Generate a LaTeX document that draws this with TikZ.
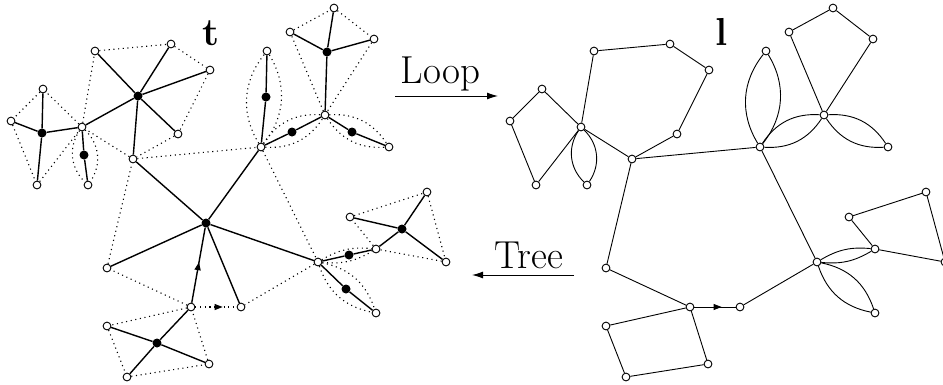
\documentclass[tikz,border=0pt]{standalone}
\usetikzlibrary{arrows.meta,decorations.markings}
\pgfdeclarelayer{bg}
\pgfsetlayers{bg,main}
\tikzset{
 wn/.style={circle,draw,fill=white,inner sep=0pt,minimum size=7.8pt,line width=0.9pt},
 bn/.style={circle,fill=black,inner sep=0pt,minimum size=9pt},
 tedge/.style={line width=1.4pt},
 dotedge/.style={line width=1.1pt,dash pattern=on 1.1pt off 3.6pt},
 ledge/.style={line width=0.9pt},
 lbl/.style={font=\fontsize{39}{44}\selectfont,inner sep=0pt,anchor=base},
 midarrow/.style={postaction={decorate,solid},decoration={markings,mark=at position #1 with {\arrow{Triangle[length=8pt,width=6pt]}}}},
 bigarrow/.style={line width=1pt,-{Latex[length=11pt,width=7pt]}},
}
\begin{document}
\begin{tikzpicture}[x=1pt,y=-1pt]
\useasboundingbox (0,0) rectangle (943,384);
\clip (0,0) rectangle (943,384);
% white vertices, left tree and their copies in the right map
\foreach \n/\x/\y in {a1/95/51, a2/171/44, a3/210/70, a4/178/134, a5/133/159, W1/82/127,
  c1/43/89, c2/11/121, c3/37/185, c4/88/185, W2/261/147, f1/267/51, W3/325/115,
  g1/290/32, g2/334/8, g3/374/39, h1/389/147, L1/107/268, D1/191/307, D2/241/307,
  e1/107/326, e2/209/364, e3/127/377, R1/318/262, W4/376/249, i1/350/217,
  i2/427/192, i3/446/262, j1/376/313}{
  \node[wn] (\n) at (\x,\y) {};
  \node[wn] (R\n) at (\x+499,\y) {};
}
% black vertices
\foreach \n/\x/\y in {B1/138/96, B2/42/133, B3/84/155, C/206/223, B4/157/343,
  B5/266/97, B6/292/132, B7/327/52, B8/352/132, B9/349/255, B10/402/229, B11/346/289}{
  \node[bn] (\n) at (\x,\y) {};
}
\begin{pgfonlayer}{bg}
% tree edges
\foreach \a/\b in {B1/a1, B1/a2, B1/a3, B1/a4, B1/a5, B1/W1, B2/W1, B2/c1, B2/c2, B2/c3,
  B3/W1, B3/c4, C/a5, C/W2, C/L1, C/R1, C/D2, B4/D1, B4/e1, B4/e2, B4/e3, B5/W2, B5/f1,
  B6/W2, B6/W3, B7/W3, B7/g1, B7/g2, B7/g3, B8/W3, B8/h1, B9/R1, B9/W4, B10/W4, B10/i1,
  B10/i2, B10/i3, B11/R1, B11/j1}{
  \draw[tedge] (\a) -- (\b);
}
\draw[tedge,midarrow=0.54] (D1) -- (C);
% map edges: dotted on the left, solid on the right
\foreach \a/\b in {a1/a2, a2/a3, a3/a4, a4/a5, a5/W1, W1/a1, c1/c2, c2/c3, c3/W1, W1/c1,
  a5/W2, W2/R1, R1/D2, D1/L1, L1/a5, D1/e1, e1/e3, e3/e2, e2/D1, g1/g2, g2/g3, g3/W3,
  W3/g1, i1/i2, i2/i3, i3/W4, W4/i1}{
  \draw[dotedge] (\a) -- (\b);
  \draw[ledge] (R\a) -- (R\b);
}
\foreach \a/\b/\t in {W1/c4/40, W2/f1/35, W2/W3/30, W3/h1/30, R1/W4/18, R1/j1/30}{
  \draw[dotedge] (\a) to[bend left=\t] (\b) (\a) to[bend right=\t] (\b);
  \draw[ledge] (R\a) to[bend left=\t] (R\b) (R\a) to[bend right=\t] (R\b);
}
\draw[dotedge,midarrow=0.66] (D1) -- (D2);
\draw[ledge,midarrow=0.66] (RD1) -- (RD2);
\end{pgfonlayer}
% labels and arrows
\node[lbl] (tl) at (211,45) {\textbf{t}};
\node[lbl] (ll) at (722,45) {\textbf{l}};
\node[lbl] (loop) at (440.5,83) {Loop};
\node[lbl] (tree) at (529,268) {Tree};
\coordinate (lpa) at (395,96);
\coordinate (lpb) at (498,96);
\coordinate (tra) at (574,275);
\coordinate (trb) at (472,275);
\draw[bigarrow] (lpa) -- (lpb);
\draw[bigarrow] (tra) -- (trb);
\end{tikzpicture}
\end{document}
